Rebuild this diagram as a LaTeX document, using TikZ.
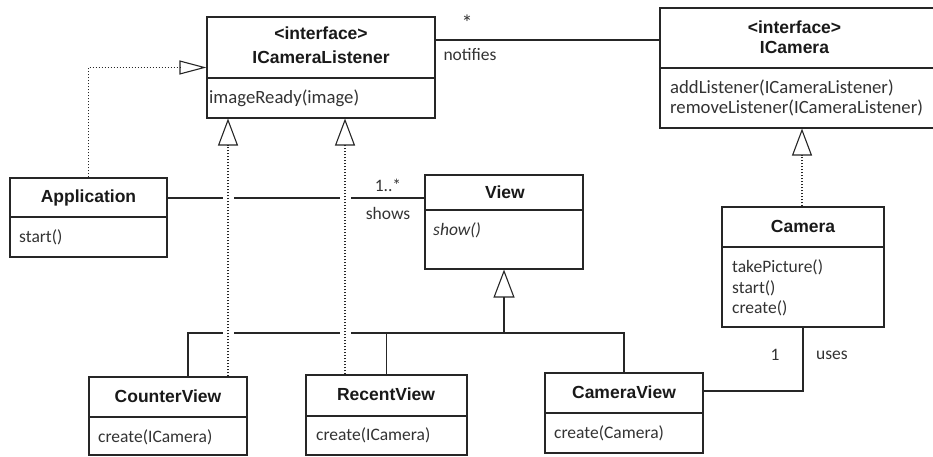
\documentclass[tikz,border=0pt]{standalone}
\usepackage{fontspec}
\setmainfont{Carlito}
\newfontfamily\headfont{Liberation Sans}
\usetikzlibrary{arrows.meta}

\begin{document}
\begin{tikzpicture}[x=1pt,y=-1pt,
  ink/.style={draw=black!85, line width=1.1pt},
  cls/.style={ink, fill=white, rectangle, inner sep=0pt},
  title/.style={font=\headfont\bfseries\fontsize{17.5}{20}\selectfont, text=black!90, inner sep=0pt},
  op/.style={font=\fontsize{17.5}{21}\selectfont, text=black!80, inner sep=0pt, anchor=west},
  wideop/.style={op, font=\fontsize{18.7}{22}\selectfont},
  lbl/.style={font=\fontsize{17.5}{21}\selectfont, text=black!80, inner sep=0pt},
  assoc/.style={ink},
  real/.style={ink, dash pattern=on 1.5pt off 1.5pt,
    -{Triangle[open, length=27pt, width=20pt, line width=1.1pt]}},
  realside/.style={ink, dash pattern=on 1.5pt off 1.5pt,
    -{Triangle[open, length=27pt, width=14pt, line width=1.1pt]}},
  gen/.style={ink, -{Triangle[open, length=28pt, width=21pt, line width=1.1pt]}},
  hop/.style={fill=white, draw=none},
]
\useasboundingbox (0,0) rectangle (933,457);

% ---------- classes ----------
\node[cls, minimum width=228pt, minimum height=101pt] (icl)  at (321,67.5) {};
\node[cls, minimum width=280pt, minimum height=120pt] (icam) at (800,68) {};
\node[cls, minimum width=157pt, minimum height=79pt]  (app)  at (88.5,217.5) {};
\node[cls, minimum width=158pt, minimum height=94pt]  (view) at (504,222) {};
\node[cls, minimum width=162pt, minimum height=120pt] (cam)  at (803,267) {};
\node[cls, minimum width=158pt, minimum height=78pt]  (cv)   at (168,416) {};
\node[cls, minimum width=161pt, minimum height=80pt]  (rv)   at (386.5,415) {};
\node[cls, minimum width=158pt, minimum height=80pt]  (camv) at (624,413) {};

% compartment dividers
\draw[ink] (icl.west |- 0,78)   -- (icl.east |- 0,78);
\draw[ink] (icam.west |- 0,68)  -- (icam.east |- 0,68);
\draw[ink] (app.west |- 0,217)  -- (app.east |- 0,217);
\draw[ink] (view.west |- 0,210) -- (view.east |- 0,210);
\draw[ink] (cam.west |- 0,247)  -- (cam.east |- 0,247);
\draw[ink] (cv.west |- 0,417)   -- (cv.east |- 0,417);
\draw[ink] (rv.west |- 0,416)   -- (rv.east |- 0,416);
\draw[ink] (camv.west |- 0,413) -- (camv.east |- 0,413);

% class headers
\node[title] (iclst) at (321,33) {<interface>};
\node[title] (icln)  at (321,57) {ICameraListener};
\node[title] (icamst) at (794.5,27) {<interface>};
\node[title] (icamn)  at (794.5,47) {ICamera};
\node[title] (appn)  at (88.5,198) {Application};
\node[title] (viewn) at (505,192) {View};
\node[title] (camn)  at (803,226) {Camera};
\node[title] (cvn)   at (168,396) {CounterView};
\node[title] (rvn)   at (386,394) {RecentView};
\node[title] (camvn) at (624,392) {CameraView};

% operations
\node[wideop] (iclop)  at (209,98)  {imageReady(image)};
\node[wideop] (icamop1) at (670,88)  {addListener(ICameraListener)};
\node[wideop] (icamop2) at (670,108) {removeListener(ICameraListener)};
\node[op] (appop)  at (19,237)  {start()};
\node[op] (viewop) at (433,230) {\itshape show()};
\node[op] (camop1) at (732,267) {takePicture()};
\node[op] (camop2) at (732,288) {start()};
\node[op] (camop3) at (732,308) {create()};
\node[op] (cvop)   at (98,437)  {create(ICamera)};
\node[op] (rvop)   at (316,435) {create(ICamera)};
\node[op] (camvop) at (554,433) {create(Camera)};

% ---------- associations ----------
\draw[assoc] (icl.east |- 0,40) -- (icam.west |- 0,40);
\node[lbl, font=\fontsize{22}{24}\selectfont] (mstar) at (467,23) {*};
\node[lbl] (notif) at (470,55) {notifies};

\draw[assoc] (app.east |- 0,198) -- (view.west |- 0,198);
\node[lbl] (mshows) at (388,185) {1..*};
\node[lbl] (shows)  at (388,213) {shows};

\draw[assoc] (cam.south) |- (camv.east |- 0,391);
\node[lbl] (muses) at (775,355) {1};
\node[lbl] (uses)  at (832,355) {uses};

% ---------- generalisation tree ----------
\coordinate (fork) at (view.south |- 0,333);
\draw[ink] (cv.north -| 188,0) -- (188,333) -- (camv.north |- 0,333) -- (camv.north);
\draw[ink] (rv.north |- 0,333) -- (rv.north);
\draw[gen] (fork) -- (view.south);

% gaps in the solid lines where the dotted ones pass
\fill[hop] (222.5,193) rectangle (233.5,203);
\fill[hop] (339.5,193) rectangle (350.5,203);
\fill[hop] (222.5,328) rectangle (233.5,338);
\fill[hop] (339.5,328) rectangle (350.5,338);

% ---------- realisations ----------
\draw[realside] (app.north) |- (icl.west);
\draw[real] (cv.north -| 228,0) -- (icl.south -| 228,0);
\draw[real] (rv.north -| 345,0) -- (icl.south -| 345,0);
\draw[real] (cam.north -| 802,0) -- (icam.south -| 802,0);

\end{tikzpicture}
\end{document}
